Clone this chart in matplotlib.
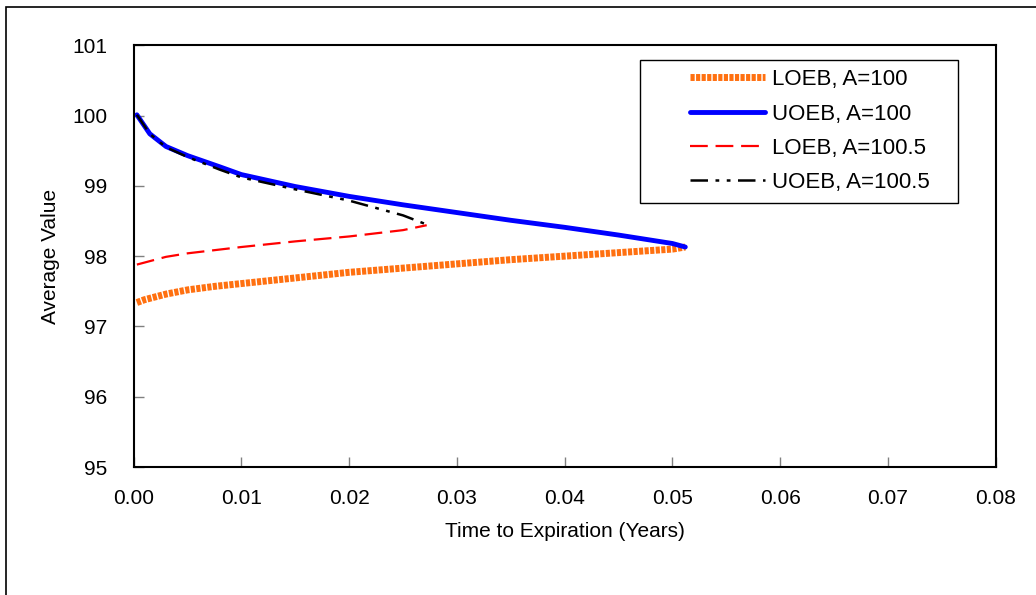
import matplotlib.pyplot as plt
from matplotlib.patches import Rectangle

plt.rcParams['font.family'] = ['Liberation Sans', 'DejaVu Sans']

# LOEB, A=100
loeb100_t = [0.0003, 0.001, 0.002, 0.003, 0.005, 0.0075, 0.01, 0.015, 0.02, 0.025, 0.03, 0.035, 0.04, 0.045, 0.05, 0.0512]
loeb100_v = [97.34, 97.38, 97.42, 97.46, 97.52, 97.57, 97.61, 97.69, 97.77, 97.83, 97.89, 97.95, 98.00, 98.05, 98.10, 98.13]

# UOEB, A=100
uoeb100_t = [0.0003, 0.0015, 0.003, 0.005, 0.008, 0.01, 0.015, 0.02, 0.025, 0.03, 0.035, 0.04, 0.045, 0.05, 0.0512]
uoeb100_v = [100.01, 99.74, 99.56, 99.43, 99.27, 99.16, 98.99, 98.85, 98.73, 98.62, 98.51, 98.41, 98.30, 98.18, 98.13]

# LOEB, A=100.5
loeb1005_t = [0.0003, 0.003, 0.005, 0.01, 0.015, 0.02, 0.025, 0.0272]
loeb1005_v = [97.88, 97.99, 98.04, 98.13, 98.21, 98.28, 98.37, 98.44]

# UOEB, A=100.5
uoeb1005_t = [0.0003, 0.0015, 0.003, 0.005, 0.008, 0.01, 0.015, 0.02, 0.025, 0.0272]
uoeb1005_v = [100.01, 99.74, 99.55, 99.41, 99.23, 99.12, 98.95, 98.79, 98.58, 98.45]

fig = plt.figure(figsize=(10.36, 5.95), dpi=100)
ax = fig.add_axes([0.129, 0.215, 0.832, 0.709])

# Outer chart-area border
fig.patches.append(Rectangle((6 / 1036, -0.05), 1.1, 1 - 7 / 595 + 0.05, transform=fig.transFigure,
                             fill=False, edgecolor='black', linewidth=1.2))

ax.plot(loeb100_t, loeb100_v, color='#ff7010', linewidth=5, linestyle=(0, (0.6, 0.2)),
        label='LOEB, A=100')
ax.plot(uoeb100_t, uoeb100_v, color='#0000ff', linewidth=3.5, solid_capstyle='round',
        label='UOEB, A=100')
ax.plot(loeb1005_t, loeb1005_v, color='#ff0000', linewidth=1.6, linestyle=(0, (8, 3.5)),
        label='LOEB, A=100.5')
ax.plot(uoeb1005_t, uoeb1005_v, color='black', linewidth=1.8, linestyle=(0, (7, 3, 1.5, 3, 1.5, 3)),
        label='UOEB, A=100.5')

ax.set_xlim(0, 0.08)
ax.set_ylim(95, 101)
ax.set_xticks([0.00, 0.01, 0.02, 0.03, 0.04, 0.05, 0.06, 0.07, 0.08])
ax.set_xticklabels(['0.00', '0.01', '0.02', '0.03', '0.04', '0.05', '0.06', '0.07', '0.08'])
ax.set_yticks([95, 96, 97, 98, 99, 100, 101])
ax.tick_params(direction='in', length=7, width=1, color='#808080', labelsize=15)
ax.tick_params(axis='x', pad=16)
ax.tick_params(axis='y', pad=19)
for s in ax.spines.values():
    s.set_linewidth(1.5)
    s.set_color('black')

ax.set_xlabel('Time to Expiration (Years)', fontsize=15, labelpad=10)
ax.set_ylabel('Average Value', fontsize=15, labelpad=9)

# legend box drawn by hand, entries placed without frame
ax.add_patch(Rectangle((0.588, 0.626), 0.368, 0.338, transform=ax.transAxes,
                       fill=True, facecolor='white', edgecolor='black', linewidth=1.0, zorder=4))
leg = ax.legend(loc='upper left', bbox_to_anchor=(0.645, 0.943), fontsize=16, frameon=False,
                handlelength=3.4, handletextpad=0.3, borderpad=0, borderaxespad=0,
                labelspacing=0.6)
leg.set_zorder(5)

fig.savefig('out.png', dpi=100)
